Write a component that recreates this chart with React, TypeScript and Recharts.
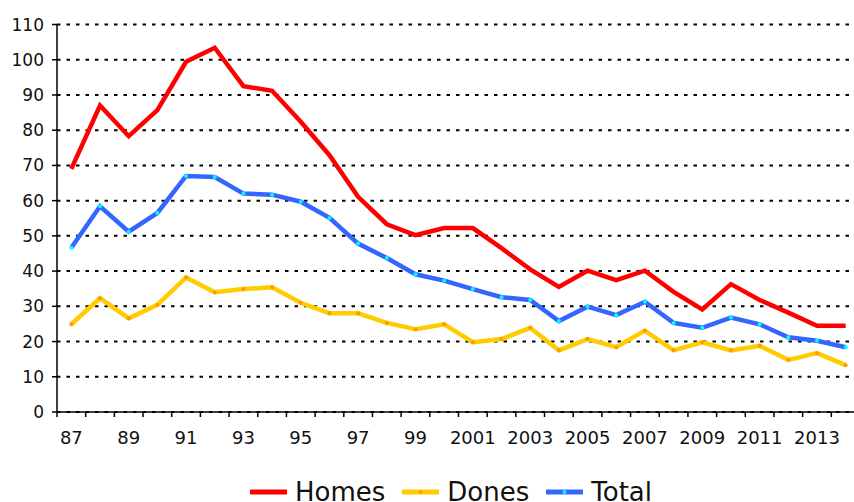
import { LineChart, Line, XAxis, YAxis, CartesianGrid, Legend } from 'recharts';

const years = [
  '87', '88', '89', '90', '91', '92', '93', '94', '95', '96', '97', '98', '99', '2000',
  '2001', '2002', '2003', '2004', '2005', '2006', '2007', '2008', '2009', '2010', '2011', '2012', '2013', '2014',
];
const homes = [
  69, 87, 78.3, 85.7, 99.4, 103.4, 92.5, 91.2, 82.4, 72.9, 61.1, 53.3, 50.2, 52.2,
  52.2, 46.5, 40.5, 35.5, 40.1, 37.4, 40.1, 34.1, 29.1, 36.3, 31.8, 28.2, 24.5, 24.5,
];
const dones = [
  24.9, 32.3, 26.6, 30.4, 38.2, 34.0, 34.9, 35.4, 31.0, 28.0, 28.0, 25.3, 23.5, 24.9,
  19.8, 20.7, 23.9, 17.5, 20.7, 18.4, 23.1, 17.5, 19.8, 17.5, 18.8, 14.8, 16.7, 13.3,
];
const total = [
  46.6, 58.4, 51.2, 56.5, 67.0, 66.7, 62.0, 61.7, 59.7, 55.1, 47.8, 43.7, 39.1, 37.3,
  34.9, 32.6, 31.8, 25.8, 29.9, 27.5, 31.3, 25.3, 23.9, 26.8, 24.9, 21.2, 20.2, 18.4,
];
const yTicks = [0, 10, 20, 30, 40, 50, 60, 70, 80, 90, 100, 110];

const data = years.map((y, i) => ({ year: y, Homes: homes[i], Dones: dones[i], Total: total[i] }));

const W = 854;
const H = 502;
const LEFT = 57;
const RIGHT = -6;
const AXIS_Y = 412;
const bw = (W - LEFT - RIGHT) / years.length;
const font = '"DejaVu Sans", Verdana, sans-serif';

function XTick(props: any) {
  const { x, index } = props;
  const last = index === years.length - 1;
  return (
    <g>
      <line x1={x - bw / 2} x2={x - bw / 2} y1={AXIS_Y} y2={AXIS_Y + 5} stroke="#000" strokeWidth={1.5} />
      {last && <line x1={x + bw / 2} x2={x + bw / 2} y1={AXIS_Y} y2={AXIS_Y + 5} stroke="#000" strokeWidth={1.5} />}
      {index % 2 === 0 && (
        <text x={x} y={443.5} textAnchor="middle" fontSize={18} fill="#111" fontFamily={font}>
          {props.payload.value}
        </text>
      )}
    </g>
  );
}

const legendItems = [
  { name: 'Homes', color: '#FF0000', dot: null },
  { name: 'Dones', color: '#FFCC00', dot: '#FF9900' },
  { name: 'Total', color: '#3366FF', dot: '#00FFFF' },
];

function LegendBox() {
  return (
    <div style={{ display: 'flex', alignItems: 'center', height: 30, lineHeight: '30px', fontFamily: font, fontSize: 26, color: '#111' }}>
      {legendItems.map((it) => (
        <span key={it.name} style={{ display: 'flex', alignItems: 'center', marginRight: 17 }}>
          <svg width={37} height={10} style={{ marginRight: 8 }}>
            <line x1={0} x2={37} y1={5} y2={5} stroke={it.color} strokeWidth={5} />
            {it.dot && <circle cx={18.5} cy={5} r={2} fill={it.dot} />}
          </svg>
          {it.name}
        </span>
      ))}
    </div>
  );
}

export default function App() {
  return (
    <div style={{ position: 'absolute', left: 0, top: 0, width: W, height: H, background: '#fff' }}>
      <LineChart width={W} height={H} data={data} margin={{ top: 24.5, right: RIGHT, left: 0, bottom: 30 }}>
        <CartesianGrid vertical={false} stroke="#000" strokeWidth={2} strokeDasharray="3.5 6" />
        <XAxis
          dataKey="year"
          scale="band"
          interval={0}
          height={30}
          tickLine={false}
          axisLine={{ stroke: '#000', strokeWidth: 1.5 }}
          tick={<XTick />}
        />
        <YAxis
          domain={[0, 110]}
          ticks={yTicks}
          width={LEFT}
          tickSize={5}
          tickMargin={8}
          axisLine={{ stroke: '#000', strokeWidth: 1.5 }}
          tickLine={{ stroke: '#000', strokeWidth: 1.5 }}
          tick={{ fontSize: 17, fill: '#111', fontFamily: font }}
        />
        <Legend
          verticalAlign="bottom"
          content={<LegendBox />}
          wrapperStyle={{ top: 477, left: 250, width: 600, height: 30 }}
        />
        <Line dataKey="Homes" stroke="#FF0000" strokeWidth={4.5} dot={false} isAnimationActive={false} />
        <Line dataKey="Dones" stroke="#FFCC00" strokeWidth={4.5} dot={{ r: 2, fill: '#FF9900', stroke: 'none' }} isAnimationActive={false} />
        <Line dataKey="Total" stroke="#3366FF" strokeWidth={4.5} dot={{ r: 2, fill: '#00FFFF', stroke: 'none' }} isAnimationActive={false} />
      </LineChart>
    </div>
  );
}
